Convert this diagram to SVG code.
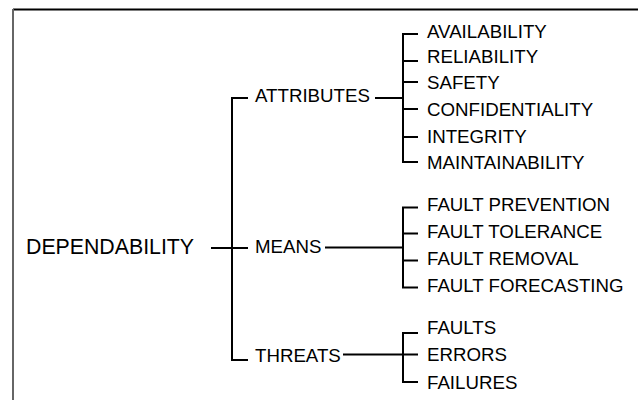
<svg xmlns="http://www.w3.org/2000/svg" width="638" height="400" viewBox="0 0 638 400">
<style>
text{font-family:"Liberation Sans",Arial,sans-serif;font-size:18.7px;fill:#000}
.root{font-size:21.3px}
.ln{stroke:#000;stroke-width:2;fill:none}
</style>
<rect width="638" height="400" fill="#fff"/>
<line x1="13" y1="9.5" x2="638" y2="9.5" stroke="#000" stroke-width="2"/>
<line x1="13" y1="9" x2="13" y2="400" stroke="#666" stroke-width="2"/>
<g id="connectors">
<path class="ln" d="M211 248H248M248 98H232V360H248"/>
<path class="ln" d="M375 98H403M418 34H403V162H418M403 61H418M403 82H418M403 109H418M403 137H418"/>
<path class="ln" d="M325 247.5H403M418 207.5H403V287.5H418M403 233.5H418M403 260.5H418"/>
<path class="ln" d="M343 354.5H418M418 333H403V382H418"/>
</g>
<g id="n-dependability"><text class="root" x="26" y="254">DEPENDABILITY</text></g>
<g id="n-attributes"><text x="255" y="102">ATTRIBUTES</text></g>
<g id="n-means"><text x="255" y="252.5">MEANS</text></g>
<g id="n-threats"><text x="255" y="361.5">THREATS</text></g>
<g id="n-availability"><text x="427" y="38">AVAILABILITY</text></g>
<g id="n-reliability"><text x="427" y="62.5">RELIABILITY</text></g>
<g id="n-safety"><text x="427" y="88.5">SAFETY</text></g>
<g id="n-confidentiality"><text x="427" y="116">CONFIDENTIALITY</text></g>
<g id="n-integrity"><text x="427" y="142.5">INTEGRITY</text></g>
<g id="n-maintainability"><text x="427" y="169">MAINTAINABILITY</text></g>
<g id="n-fault-prevention"><text x="427" y="210.5">FAULT PREVENTION</text></g>
<g id="n-fault-tolerance"><text x="427" y="237.5">FAULT TOLERANCE</text></g>
<g id="n-fault-removal"><text x="427" y="265">FAULT REMOVAL</text></g>
<g id="n-fault-forecasting"><text x="427" y="292">FAULT FORECASTING</text></g>
<g id="n-faults"><text x="427" y="333.5">FAULTS</text></g>
<g id="n-errors"><text x="427" y="361">ERRORS</text></g>
<g id="n-failures"><text x="427" y="388.5">FAILURES</text></g>
</svg>
